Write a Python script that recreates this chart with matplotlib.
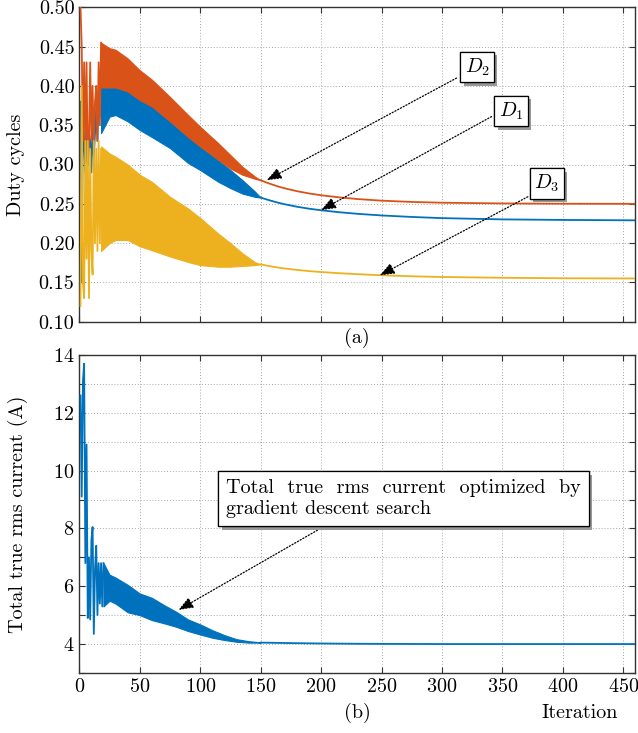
import matplotlib
matplotlib.use("Agg")
import matplotlib.pyplot as plt
import matplotlib.patheffects as pe
from matplotlib.ticker import MultipleLocator

plt.rcParams["font.family"] = ["cmr10", "DejaVu Serif"]
plt.rcParams["mathtext.fontset"] = "cm"
plt.rcParams["axes.formatter.use_mathtext"] = True
plt.rcParams["axes.unicode_minus"] = False

# colours (matlab style)
c1 = "#0072BD"
c2 = "#D95319"
c3 = "#EDB120"

# --- duty cycles: transient, iterations 1..18 ---
early_it = list(range(1, 19))
d1_early = [0.38, 0.15, 0.365, 0.33, 0.29, 0.35, 0.30, 0.34, 0.33, 0.29, 0.35, 0.31, 0.34, 0.37, 0.33, 0.39, 0.36, 0.40]
d2_early = [0.50, 0.45, 0.33, 0.43, 0.32, 0.43, 0.30, 0.33, 0.43, 0.33, 0.40, 0.32, 0.38, 0.40, 0.33, 0.43, 0.35, 0.455]
d3_early = [0.12, 0.40, 0.15, 0.13, 0.33, 0.18, 0.33, 0.13, 0.32, 0.19, 0.16, 0.33, 0.20, 0.32, 0.19, 0.33, 0.20, 0.32]

# --- duty cycles: oscillation envelopes ---
band_it = [18, 25, 30, 40, 50, 60, 75, 90, 100, 115, 125, 135, 145, 150]
d1_hi = [0.400, 0.400, 0.400, 0.394, 0.384, 0.374, 0.355, 0.335, 0.323, 0.305, 0.293, 0.280, 0.266, 0.258]
d1_lo = [0.340, 0.361, 0.363, 0.355, 0.344, 0.335, 0.321, 0.302, 0.293, 0.278, 0.270, 0.263, 0.259, 0.258]
d2_hi = [0.455, 0.448, 0.446, 0.435, 0.420, 0.408, 0.386, 0.363, 0.348, 0.327, 0.312, 0.297, 0.285, 0.280]
d2_lo = [0.398, 0.398, 0.398, 0.393, 0.382, 0.374, 0.355, 0.335, 0.323, 0.306, 0.295, 0.287, 0.282, 0.280]
d3_hi = [0.323, 0.314, 0.310, 0.300, 0.287, 0.278, 0.259, 0.244, 0.232, 0.212, 0.200, 0.187, 0.176, 0.173]
d3_lo = [0.190, 0.200, 0.204, 0.204, 0.196, 0.191, 0.183, 0.176, 0.172, 0.170, 0.170, 0.171, 0.172, 0.173]

# --- duty cycles: converged tail ---
tail_it = [150, 155, 160, 165, 170, 180, 190, 200, 215, 230, 250, 275, 300, 350, 400, 460]
d1_tail = [0.258, 0.2555, 0.2533, 0.2512, 0.2494, 0.2463, 0.2438, 0.2418, 0.2393, 0.2373, 0.2352, 0.2333, 0.2318, 0.2302, 0.2295, 0.229]
d2_tail = [0.280, 0.2770, 0.2743, 0.2718, 0.2697, 0.2661, 0.2632, 0.2609, 0.2582, 0.2561, 0.2540, 0.2524, 0.2514, 0.2505, 0.2501, 0.250]
d3_tail = [0.173, 0.1714, 0.1700, 0.1688, 0.1677, 0.1659, 0.1644, 0.1632, 0.1617, 0.1605, 0.1591, 0.1578, 0.1569, 0.1559, 0.1553, 0.155]

# --- total rms current ---
i_early_it = list(range(1, 21))
i_early = [12.6, 9.1, 13.1, 13.7, 6.8, 10.9, 4.9, 7.0, 4.85, 7.6, 8.05, 4.35, 6.6, 7.4, 5.0, 6.8, 5.4, 6.8, 5.3, 6.8]
i_band_it = [20, 25, 30, 40, 50, 60, 70, 80, 90, 100, 110, 120, 130, 140, 150]
i_hi = [6.8, 6.4, 6.3, 6.05, 5.75, 5.6, 5.35, 5.12, 4.85, 4.68, 4.48, 4.31, 4.17, 4.10, 4.06]
i_lo = [5.3, 5.5, 5.4, 5.1, 5.0, 4.83, 4.72, 4.6, 4.45, 4.33, 4.22, 4.14, 4.08, 4.05, 4.05]
i_tail_it = [150, 165, 180, 200, 230, 260, 300, 460]
i_tail = [4.05, 4.04, 4.03, 4.02, 4.01, 4.005, 4.0, 4.0]

fig = plt.figure(figsize=(6.38, 7.33), dpi=100)
ax1 = fig.add_axes([0.1243, 0.5611, 0.8717, 0.4289])
ax2 = fig.add_axes([0.1243, 0.0819, 0.8717, 0.4338])

fs = 14.5
lw = 1.3


def style(ax):
    ax.grid(True, which="both", color="0.65", linestyle=(0, (1, 2)), linewidth=0.7)
    ax.set_axisbelow(True)
    ax.tick_params(which="both", direction="in", top=True, right=True,
                   length=4, width=0.8, color="0.2", labelsize=fs)
    for s in ax.spines.values():
        s.set_color("0.2")
        s.set_linewidth(1.0)


# top plot: D1, D2, D3
for z, (col, e, hi, lo, t) in enumerate([(c1, d1_early, d1_hi, d1_lo, d1_tail),
                                         (c2, d2_early, d2_hi, d2_lo, d2_tail),
                                         (c3, d3_early, d3_hi, d3_lo, d3_tail)]):
    ax1.plot(early_it, e, color=col, lw=lw, zorder=2 + z)
    ax1.fill_between(band_it, lo, hi, color=col, lw=0.8, edgecolor=col, zorder=2 + z)
    ax1.plot(tail_it, t, color=col, lw=lw, zorder=2 + z)

ax1.set_xlim(0, 460)
ax1.set_ylim(0.10, 0.50)
ax1.xaxis.set_major_locator(MultipleLocator(50))
ax1.yaxis.set_major_locator(MultipleLocator(0.05))
ax1.yaxis.set_major_formatter(plt.FormatStrFormatter("%.2f"))
style(ax1)
ax1.tick_params(labelbottom=False)
ax1.set_ylabel("Duty cycles", fontsize=fs)
ax1.yaxis.set_label_coords(-0.098, 0.5)

arrow_kw = dict(arrowstyle="-|>,head_length=0.9,head_width=0.35", color="black",
                lw=0.9, linestyle=(0, (1, 1.5)), shrinkA=0, shrinkB=0)
box_kw = dict(boxstyle="square,pad=0.22", fc="white", ec="black", lw=0.9)
shadow = [pe.withSimplePatchShadow(offset=(2.5, -2.5), shadow_rgbFace="0.6", alpha=1), pe.Normal()]

labels_d = [(r"$D_2$", (155, 0.280), (312, 0.410), (329, 0.424)),
            (r"$D_1$", (200, 0.242), (341, 0.361), (357, 0.368)),
            (r"$D_3$", (248.5, 0.159), (371, 0.259), (386.5, 0.276))]
for txt, tip, tail, pos in labels_d:
    ax1.annotate("", xy=tip, xytext=tail, arrowprops=arrow_kw, zorder=8)
    t = ax1.text(pos[0], pos[1], txt, fontsize=fs, ha="center", va="center",
                 bbox=box_kw, zorder=9)
    t.get_bbox_patch().set_path_effects(shadow)

# bottom plot: current
ax2.plot(i_early_it, i_early, color=c1, lw=lw, zorder=3)
ax2.fill_between(i_band_it, i_lo, i_hi, color=c1, lw=0.8, edgecolor=c1, zorder=3)
ax2.plot(i_tail_it, i_tail, color=c1, lw=lw, zorder=3)

ax2.set_xlim(0, 460)
ax2.set_ylim(3, 14)
ax2.xaxis.set_major_locator(MultipleLocator(50))
ax2.yaxis.set_major_locator(MultipleLocator(2))
ax2.yaxis.set_minor_locator(MultipleLocator(1))
style(ax2)
ax2.set_ylabel("Total true rms current (A)", fontsize=fs)
ax2.yaxis.set_label_coords(-0.092, 0.5)

ax2.annotate("", xy=(82, 5.18), xytext=(197, 7.94), arrowprops=arrow_kw, zorder=8)
t = ax2.text(121.5, 9.03, "Total  true  rms  current  optimized  by\ngradient descent search",
             fontsize=fs, ha="left", va="center", linespacing=1.2,
             bbox=dict(boxstyle="square,pad=0.4", fc="white", ec="black", lw=0.9), zorder=9)
t.get_bbox_patch().set_path_effects(shadow)

fig.text(0.5596, 0.5389, "(a)", fontsize=fs, ha="center", va="center")
fig.text(0.561, 0.0273, "(b)", fontsize=fs, ha="center", va="center")
fig.text(0.909, 0.0273, "Iteration", fontsize=fs, ha="center", va="center")

fig.savefig("out.png", dpi=100)
